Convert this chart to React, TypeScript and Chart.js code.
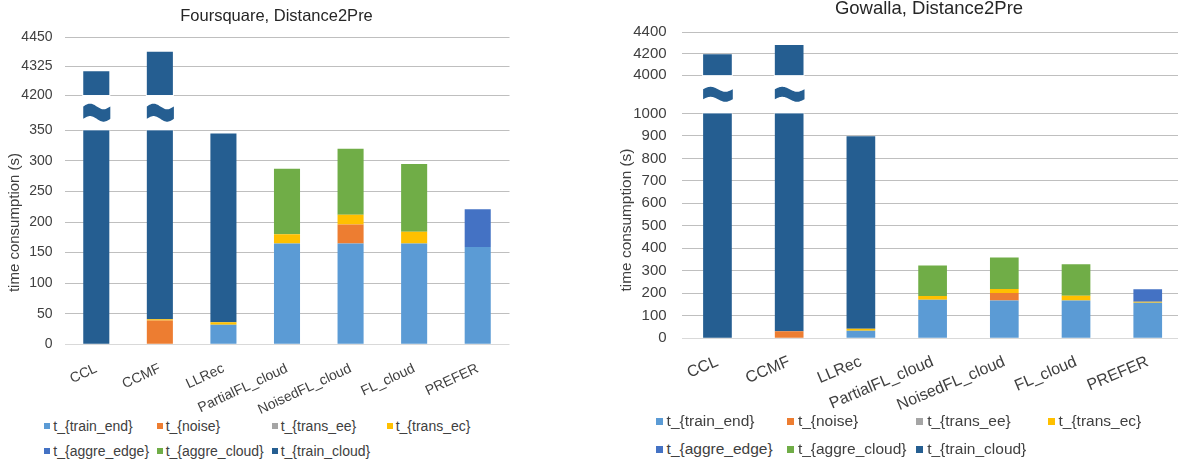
import React, { useEffect, useRef } from 'react';
import { Chart, registerables, LinearScale } from 'chart.js';

// ---------------- DATA ----------------
const categories = ['CCL', 'CCMF', 'LLRec', 'PartialFL_cloud', 'NoisedFL_cloud', 'FL_cloud', 'PREFER'];
const seriesNames = ['t_{train_end}', 't_{noise}', 't_{trans_ee}', 't_{trans_ec}', 't_{aggre_edge}', 't_{aggre_cloud}', 't_{train_cloud}'];
const seriesColors = ['#5B9BD5', '#ED7D31', '#A5A5A5', '#FFC000', '#4472C4', '#70AD47', '#255E91'];

// Foursquare, Distance2Pre
const fsTrainEnd = [0, 0, 32, 165, 165, 165, 159];
const fsNoise = [0, 39, 0, 0, 31, 0, 0];
const fsTransEe = [0, 0, 0, 0, 0, 0, 0];
const fsTransEc = [1, 2, 4, 15, 16, 19, 0];
const fsAggreEdge = [0, 0, 0, 0, 0, 0, 62];
const fsAggreCloud = [0, 0, 0, 107, 108, 111, 0];
const fsTrainCloud = [4302, 4346, 309, 0, 0, 0, 0];
const fsTicks = [0, 50, 100, 150, 200, 250, 300, 350, 4200, 4325, 4450];

// Gowalla, Distance2Pre
const gwTrainEnd = [0, 0, 34, 171, 168, 168, 158];
const gwNoise = [0, 31, 0, 0, 33, 0, 0];
const gwTransEe = [0, 0, 0, 0, 0, 0, 0];
const gwTransEc = [0, 0, 9, 17, 18, 21, 4];
const gwAggreEdge = [0, 0, 0, 0, 0, 0, 56];
const gwAggreCloud = [0, 0, 0, 136, 140, 140, 0];
const gwTrainCloud = [4195, 4250, 855, 0, 0, 0, 0];
const gwTicks = [0, 100, 200, 300, 400, 500, 600, 700, 800, 900, 1000, 4000, 4200, 4400];

const yAxisTitle = 'time consumption (s)';

// ---------------- BROKEN SCALE ----------------
class BrokenScale extends LinearScale {
  static id = 'broken';
  static defaults = { ...(LinearScale as any).defaults };

  toDec(v: number) {
    const b = (this as any).options.brk;
    const highFrac = 1 - b.lowFrac - b.gapFrac;
    if (v <= b.lowMax) return (v / b.lowMax) * b.lowFrac;
    if (v <= b.highMin) return b.lowFrac + ((v - b.lowMax) / (b.highMin - b.lowMax)) * b.gapFrac;
    return b.lowFrac + b.gapFrac + ((v - b.highMin) / (b.max - b.highMin)) * highFrac;
  }
  fromDec(d: number) {
    const b = (this as any).options.brk;
    const highFrac = 1 - b.lowFrac - b.gapFrac;
    if (d <= b.lowFrac) return (d / b.lowFrac) * b.lowMax;
    if (d <= b.lowFrac + b.gapFrac) return b.lowMax + ((d - b.lowFrac) / b.gapFrac) * (b.highMin - b.lowMax);
    return b.highMin + ((d - b.lowFrac - b.gapFrac) / highFrac) * (b.max - b.highMin);
  }
  getPixelForValue(value: any) {
    if (value === null || value === undefined || isNaN(value)) return NaN;
    return (this as any).getPixelForDecimal(this.toDec(+value));
  }
  getValueForPixel(pixel: number) {
    return this.fromDec((this as any).getDecimalForPixel(pixel));
  }
}

Chart.register(...registerables, BrokenScale as any);

const FONT = 'Liberation Sans, Arial, sans-serif';
const TEXT = '#404040';

// draws the break marks over bars that cross the gap
const breakPlugin = {
  id: 'axisBreak',
  afterDatasetsDraw(chart: any) {
    const y = chart.scales.y;
    const b = y.options.brk;
    const yHigh = y.getPixelForValue(b.highMin);
    const yLow = y.getPixelForValue(b.lowMax);
    const ctx = chart.ctx;
    ctx.save();
    chart.data.datasets.forEach((ds: any, di: number) => {
      const meta = chart.getDatasetMeta(di);
      meta.data.forEach((el: any) => {
        const p = el.getProps(['x', 'y', 'base', 'width'], true);
        if (!isFinite(p.y) || !isFinite(p.base)) return;
        const top = Math.min(p.y, p.base);
        const bot = Math.max(p.y, p.base);
        if (top < yHigh && bot > yLow) {
          const x0 = p.x - p.width / 2;
          const x1 = p.x + p.width / 2;
          ctx.fillStyle = '#ffffff';
          ctx.fillRect(x0 - 1, yHigh, x1 - x0 + 2, yLow - yHigh);
          const yc = (yHigh + yLow) / 2;
          const A = b.waveA;
          const th = b.waveH - 2 * A;
          const tY = yc - th / 2;
          const bY = yc + th / 2;
          const N = 30;
          ctx.beginPath();
          for (let i = 0; i <= N; i++) {
            const t = i / N;
            const xx = x0 + (x1 - x0 + 1) * t;
            const yy = tY - A * Math.sin(2 * Math.PI * t);
            if (i === 0) ctx.moveTo(xx, yy); else ctx.lineTo(xx, yy);
          }
          for (let i = N; i >= 0; i--) {
            const t = i / N;
            const xx = x0 + (x1 - x0 + 1) * t;
            const yy = bY - A * Math.sin(2 * Math.PI * t);
            ctx.lineTo(xx, yy);
          }
          ctx.closePath();
          ctx.fillStyle = ds.backgroundColor;
          ctx.fill();
        }
      });
    });
    ctx.restore();
  },
};

const yTitlePlugin = {
  id: 'yTitleText',
  afterDraw(chart: any) {
    const o = chart.options.plugins.yTitleText;
    const ctx = chart.ctx;
    ctx.save();
    ctx.translate(o.x, o.y);
    ctx.rotate(-Math.PI / 2);
    ctx.textAlign = 'center';
    ctx.textBaseline = 'middle';
    ctx.font = `${o.size}px ${FONT}`;
    ctx.fillStyle = TEXT;
    ctx.fillText(o.text, 0, 0);
    ctx.restore();
  },
};

type Cfg = {
  title: string;
  x0: number;
  width: number;
  height: number;
  yAxisWidth: number;
  rightPad: number;
  xAxisHeight: number;
  titleSize: number;
  titlePadTop: number;
  titlePadBottom: number;
  yTitleX: number;
  yTitleY: number;
  yTitleSize: number;
  yTickSize: number;
  yTickPad: number;
  xTickSize: number;
  xRot: number;
  xPad: number;
  barPct: number;
  brk: any;
  ticks: number[];
  series: number[][];
  legendX: number[];
  legendY: number[];
  legendSize: number;
  legendBox: number;
  legendGap: number;
};

function BrokenBarChart({ cfg }: { cfg: Cfg }) {
  const ref = useRef<HTMLCanvasElement>(null);
  useEffect(() => {
    if (!ref.current) return;
    const tickVals = cfg.ticks;
    const chart = new Chart(ref.current, {
      type: 'bar',
      data: {
        labels: categories,
        datasets: seriesNames.map((name, i) => ({
          label: name,
          data: cfg.series[i],
          backgroundColor: seriesColors[i],
          borderWidth: 0,
          barPercentage: cfg.barPct,
          categoryPercentage: 1.0,
        })),
      },
      options: {
        animation: false,
        responsive: false,
        maintainAspectRatio: false,
        layout: { padding: 0 },
        plugins: {
          legend: { display: false },
          tooltip: { enabled: false },
          title: {
            display: true,
            text: cfg.title,
            color: '#262626',
            font: { family: FONT, size: cfg.titleSize, weight: 'normal', lineHeight: 1 },
            padding: { top: cfg.titlePadTop, bottom: cfg.titlePadBottom },
          },
          yTitleText: { text: yAxisTitle, x: cfg.yTitleX, y: cfg.yTitleY, size: cfg.yTitleSize },
        } as any,
        scales: {
          x: {
            stacked: true,
            grid: { display: false, drawTicks: false },
            border: { display: false },
            ticks: {
              autoSkip: false,
              maxRotation: cfg.xRot,
              minRotation: cfg.xRot,
              padding: cfg.xPad,
              color: TEXT,
              font: { family: FONT, size: cfg.xTickSize },
            },
            afterFit: (s: any) => { s.height = cfg.xAxisHeight; },
          },
          y: {
            type: 'broken',
            brk: cfg.brk,
            stacked: true,
            min: 0,
            max: cfg.brk.max,
            afterBuildTicks: (s: any) => { s.ticks = tickVals.map((v) => ({ value: v })); },
            afterFit: (s: any) => { s.width = cfg.yAxisWidth; },
            grid: {
              drawTicks: false,
              color: (c: any) => (c.tick && c.tick.value === 0 ? '#d9d9d9' : '#bfbfbf'),
            },
            border: { display: false },
            ticks: {
              autoSkip: false,
              padding: cfg.yTickPad,
              color: TEXT,
              font: { family: FONT, size: cfg.yTickSize },
              callback: (v: any) => String(v),
            },
          } as any,
          yPad: {
            position: 'right',
            display: true,
            grid: { display: false, drawTicks: false },
            border: { display: false },
            ticks: { display: false },
            afterFit: (s: any) => { s.width = cfg.rightPad; },
          },
        },
      } as any,
      plugins: [breakPlugin, yTitlePlugin],
    });
    return () => chart.destroy();
  }, [cfg]);

  return (
    <>
      <canvas
        ref={ref}
        width={cfg.width}
        height={cfg.height}
        style={{ position: 'absolute', left: cfg.x0, top: 0, width: cfg.width, height: cfg.height }}
      />
      {seriesNames.map((name, i) => (
        <div
          key={name}
          style={{
            position: 'absolute',
            left: cfg.legendX[i % 4],
            top: cfg.legendY[Math.floor(i / 4)] - 10,
            height: 20,
            display: 'flex',
            alignItems: 'center',
            whiteSpace: 'nowrap',
            fontFamily: FONT,
            fontSize: cfg.legendSize,
            color: TEXT,
          }}
        >
          <span
            style={{
              display: 'inline-block',
              width: cfg.legendBox,
              height: cfg.legendBox,
              background: seriesColors[i],
              marginRight: cfg.legendGap,
            }}
          />
          <span>{name}</span>
        </div>
      ))}
    </>
  );
}

const leftCfg: Cfg = {
  title: 'Foursquare, Distance2Pre',
  x0: 0,
  width: 553,
  height: 415,
  yAxisWidth: 64.5,
  rightPad: 43.5,
  xAxisHeight: 70.7,
  titleSize: 16.5,
  titlePadTop: 8,
  titlePadBottom: 12.8,
  yTitleX: 15,
  yTitleY: 222.5,
  yTitleSize: 15,
  yTickSize: 14,
  yTickPad: 12,
  xTickSize: 14,
  xRot: 25,
  xPad: 16,
  barPct: 0.41,
  brk: { lowMax: 350, highMin: 4200, max: 4450, lowFrac: 0.697, gapFrac: 0.115, waveH: 18, waveA: 2.8 },
  ticks: fsTicks,
  series: [fsTrainEnd, fsNoise, fsTransEe, fsTransEc, fsAggreEdge, fsAggreCloud, fsTrainCloud],
  legendX: [44.3, 156.7, 271.7, 386.7],
  legendY: [426, 451],
  legendSize: 14,
  legendBox: 6,
  legendGap: 3,
};

const rightCfg: Cfg = {
  title: 'Gowalla, Distance2Pre',
  x0: 600,
  width: 658,
  height: 415,
  yAxisWidth: 81.6,
  rightPad: 74.4,
  xAxisHeight: 76.7,
  titleSize: 18.5,
  titlePadTop: 0,
  titlePadBottom: 13.8,
  yTitleX: 26.5,
  yTitleY: 220,
  yTitleSize: 15.4,
  yTickSize: 15,
  yTickPad: 15,
  xTickSize: 16,
  xRot: 23,
  xPad: 14,
  barPct: 0.4,
  brk: { lowMax: 1000, highMin: 4000, max: 4400, lowFrac: 0.735, gapFrac: 0.125, waveH: 15, waveA: 2.5 },
  ticks: gwTicks,
  series: [gwTrainEnd, gwNoise, gwTransEe, gwTransEc, gwAggreEdge, gwAggreCloud, gwTrainCloud],
  legendX: [655.6, 786.9, 916.2, 1047.5],
  legendY: [421, 449],
  legendSize: 15.5,
  legendBox: 7,
  legendGap: 4,
};

export default function App() {
  return (
    <div
      style={{
        position: 'fixed',
        left: 0,
        top: 0,
        width: 1178,
        height: 465,
        overflow: 'hidden',
        background: '#ffffff',
      }}
    >
      <BrokenBarChart cfg={leftCfg} />
      <BrokenBarChart cfg={rightCfg} />
    </div>
  );
}
